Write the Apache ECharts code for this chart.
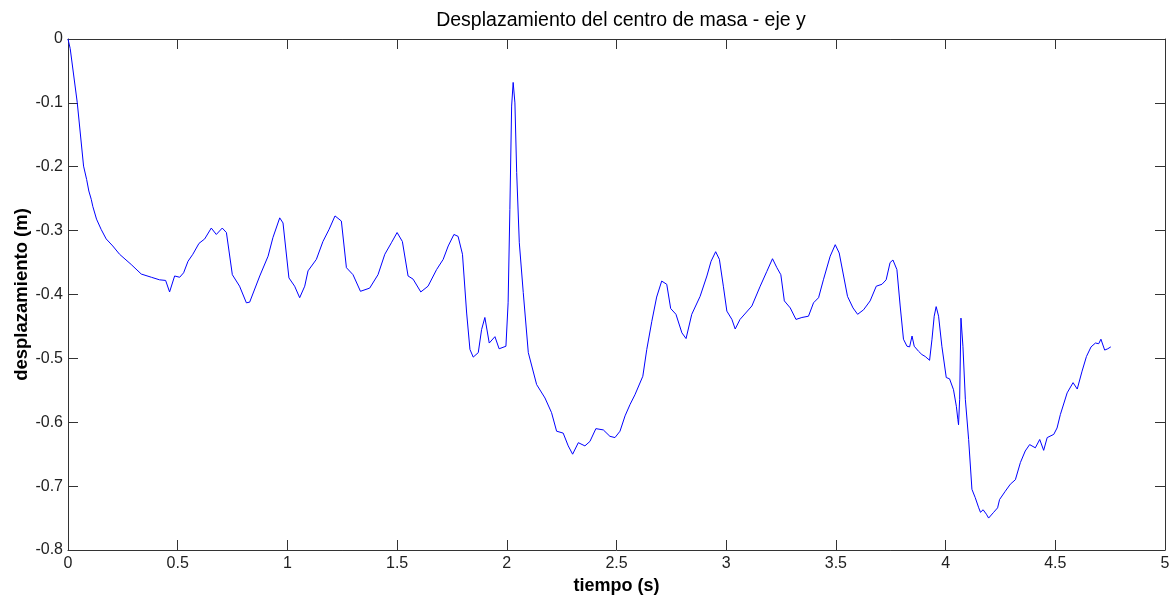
<!DOCTYPE html>
<html>
<head>
<meta charset="utf-8">
<script src="https://cdn.jsdelivr.net/npm/echarts@6/dist/echarts.min.js"></script>
<style>
html,body{margin:0;padding:0;background:#fff;}
#chart{width:1172px;height:599px;}
</style>
</head>
<body>
<div id="chart"></div>
<script>
const titleText = 'Desplazamiento del centro de masa - eje y';
const xName = 'tiempo (s)';
const yName = 'desplazamiento (m)';

const tiempo = [0,0.010,0.042,0.071,0.085,0.095,0.106,0.113,0.130,0.151,0.174,0.204,0.235,0.288,0.334,0.380,0.417,0.445,0.463,0.486,0.509,0.527,0.547,0.569,0.597,0.623,0.653,0.676,0.703,0.722,0.749,0.782,0.813,0.828,0.874,0.912,0.934,0.965,0.980,1.007,1.033,1.056,1.079,1.094,1.132,1.162,1.190,1.217,1.246,1.269,1.299,1.333,1.375,1.413,1.444,1.474,1.500,1.524,1.550,1.573,1.608,1.641,1.680,1.710,1.733,1.759,1.778,1.798,1.817,1.832,1.847,1.870,1.885,1.900,1.920,1.946,1.965,1.996,2.006,2.014,2.022,2.029,2.037,2.045,2.057,2.075,2.098,2.136,2.174,2.204,2.227,2.257,2.280,2.300,2.326,2.356,2.379,2.406,2.440,2.470,2.493,2.516,2.539,2.562,2.584,2.620,2.638,2.661,2.683,2.706,2.729,2.747,2.771,2.798,2.817,2.843,2.881,2.912,2.931,2.952,2.969,2.987,3.003,3.026,3.041,3.063,3.117,3.155,3.185,3.211,3.231,3.249,3.265,3.292,3.318,3.345,3.375,3.398,3.421,3.443,3.474,3.497,3.515,3.553,3.578,3.599,3.626,3.656,3.684,3.710,3.729,3.747,3.760,3.778,3.793,3.808,3.824,3.836,3.847,3.857,3.877,3.892,3.907,3.927,3.938,3.948,3.957,3.968,3.983,4.003,4.018,4.036,4.049,4.056,4.059,4.064,4.070,4.079,4.090,4.105,4.120,4.135,4.151,4.159,4.171,4.186,4.196,4.219,4.237,4.246,4.272,4.295,4.318,4.341,4.363,4.383,4.409,4.429,4.447,4.463,4.493,4.508,4.523,4.554,4.581,4.600,4.622,4.642,4.663,4.683,4.698,4.708,4.725,4.739,4.753];

const desplazamiento = [0,-0.015,-0.099,-0.199,-0.220,-0.238,-0.251,-0.262,-0.282,-0.298,-0.313,-0.324,-0.337,-0.353,-0.368,-0.373,-0.377,-0.378,-0.396,-0.371,-0.373,-0.366,-0.348,-0.337,-0.320,-0.313,-0.296,-0.306,-0.296,-0.303,-0.369,-0.387,-0.413,-0.412,-0.371,-0.340,-0.311,-0.280,-0.288,-0.374,-0.387,-0.405,-0.387,-0.363,-0.345,-0.317,-0.298,-0.277,-0.285,-0.358,-0.369,-0.395,-0.390,-0.369,-0.337,-0.319,-0.303,-0.317,-0.371,-0.376,-0.396,-0.387,-0.361,-0.345,-0.324,-0.306,-0.309,-0.337,-0.429,-0.486,-0.498,-0.491,-0.455,-0.436,-0.476,-0.466,-0.485,-0.481,-0.413,-0.267,-0.105,-0.068,-0.100,-0.209,-0.319,-0.397,-0.491,-0.541,-0.562,-0.585,-0.614,-0.617,-0.637,-0.650,-0.632,-0.637,-0.630,-0.610,-0.612,-0.622,-0.624,-0.614,-0.590,-0.572,-0.557,-0.528,-0.486,-0.442,-0.404,-0.379,-0.384,-0.422,-0.431,-0.460,-0.469,-0.431,-0.403,-0.371,-0.348,-0.333,-0.345,-0.387,-0.426,-0.439,-0.454,-0.439,-0.418,-0.387,-0.364,-0.344,-0.358,-0.369,-0.410,-0.421,-0.439,-0.436,-0.434,-0.413,-0.405,-0.377,-0.340,-0.322,-0.335,-0.403,-0.421,-0.431,-0.424,-0.410,-0.387,-0.384,-0.377,-0.350,-0.346,-0.361,-0.418,-0.470,-0.481,-0.482,-0.465,-0.481,-0.489,-0.494,-0.497,-0.503,-0.470,-0.434,-0.419,-0.434,-0.481,-0.530,-0.532,-0.549,-0.575,-0.596,-0.604,-0.564,-0.437,-0.481,-0.564,-0.627,-0.705,-0.718,-0.734,-0.741,-0.737,-0.744,-0.750,-0.741,-0.734,-0.721,-0.708,-0.697,-0.690,-0.663,-0.645,-0.635,-0.640,-0.627,-0.644,-0.624,-0.619,-0.609,-0.588,-0.554,-0.538,-0.548,-0.520,-0.497,-0.482,-0.476,-0.477,-0.470,-0.487,-0.485,-0.482];

const seriesData = tiempo.map((t, i) => [t, desplazamiento[i]]);

const FONT = '"Liberation Sans", Arial, sans-serif';
const axisCol = '#333';
const labelStyle = {color: '#222', fontSize: 16, fontFamily: FONT};

const chart = echarts.init(document.getElementById('chart'), null, {renderer: 'canvas'});
chart.setOption({
  animation: false,
  backgroundColor: '#fff',
  title: {
    text: titleText,
    left: 616, top: 6, textAlign: 'center',
    textStyle: {fontSize: 19.5, fontWeight: 'normal', color: '#000', fontFamily: FONT}
  },
  grid: {left: 68, right: 7, top: 39, bottom: 49, containLabel: false, outerBoundsMode: 'none'},
  xAxis: [{
    type: 'value', min: 0, max: 5, interval: 0.5,
    name: xName, nameLocation: 'middle', nameGap: 26,
    nameTextStyle: {fontSize: 18, fontWeight: 'bold', color: '#000', fontFamily: FONT},
    axisLine: {show: true, onZero: false, lineStyle: {color: axisCol, width: 1}},
    axisTick: {show: true, inside: true, length: 10, lineStyle: {color: axisCol}},
    axisLabel: Object.assign({margin: 6}, labelStyle),
    splitLine: {show: false}
  }, {
    type: 'value', min: 0, max: 5, interval: 0.5, position: 'top',
    axisLine: {show: true, onZero: false, lineStyle: {color: axisCol, width: 1}},
    axisTick: {show: true, inside: true, length: 10, lineStyle: {color: axisCol}},
    axisLabel: {show: false}, splitLine: {show: false}
  }],
  yAxis: [{
    type: 'value', min: -0.8, max: 0, interval: 0.1,
    name: yName, nameLocation: 'middle', nameGap: 37, nameRotate: 90,
    nameMoveOverlap: false,
    nameTextStyle: {fontSize: 18.5, fontWeight: 'bold', color: '#000', fontFamily: FONT},
    axisLine: {show: true, onZero: false, lineStyle: {color: axisCol, width: 1}},
    axisTick: {show: true, inside: true, length: 10, lineStyle: {color: axisCol}},
    axisLabel: Object.assign({margin: 5}, labelStyle),
    splitLine: {show: false}
  }, {
    type: 'value', min: -0.8, max: 0, interval: 0.1, position: 'right',
    axisLine: {show: true, onZero: false, lineStyle: {color: axisCol, width: 1}},
    axisTick: {show: true, inside: true, length: 10, lineStyle: {color: axisCol}},
    axisLabel: {show: false}, splitLine: {show: false}
  }],
  series: [{
    type: 'line',
    data: seriesData,
    xAxisIndex: 0, yAxisIndex: 0,
    showSymbol: false, symbol: 'none',
    lineStyle: {color: '#0000ff', width: 1},
    itemStyle: {color: '#0000ff'}
  }]
});
</script>
</body>
</html>
